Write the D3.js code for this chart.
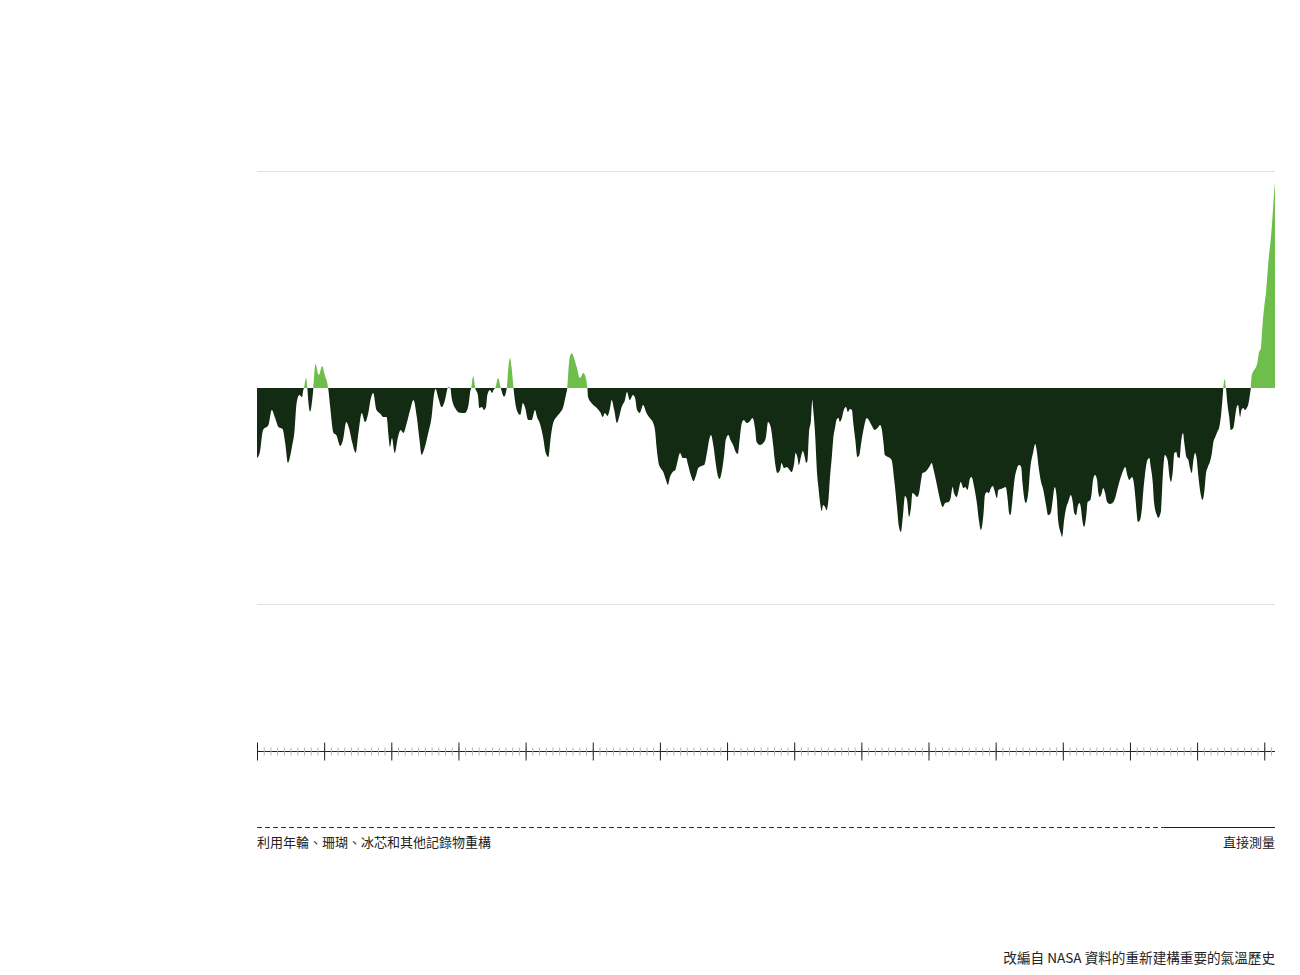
<!DOCTYPE html>
<html>
<head>
<meta charset="utf-8">
<script src="https://cdn.jsdelivr.net/npm/d3@7"></script>
<style>
  html, body { margin: 0; padding: 0; background: #fff; }
  svg { display: block; }
  text { font-family: "Noto Sans CJK TC", "Noto Sans", sans-serif; }
</style>
</head>
<body>
<svg id="chart" width="1300" height="975"></svg>
<script>
// Temperature anomaly (°C), year -> value
const tempAnomaly = [
[500,-0.323],[504,-0.300],[509,-0.194],[517,-0.171],[522,-0.102],[527,-0.139],[532,-0.180],[538,-0.189],
[542,-0.254],[546,-0.346],[552,-0.273],[556,-0.194],[559,-0.069],[563,-0.032],[567,-0.042],[569,-0.009],
[570,0],[573,0.046],[575,0],[576,-0.046],[579,-0.109],[583,-0.032],[584,0],[587,0.111],[592,0.060],
[597,0.102],[601,0.060],[606,0],[609,-0.088],[614,-0.208],[618,-0.217],[624,-0.268],[628,-0.240],
[633,-0.157],[637,-0.185],[642,-0.254],[647,-0.299],[651,-0.208],[656,-0.115],[661,-0.157],[666,-0.111],
[669,-0.055],[673,-0.023],[678,-0.102],[684,-0.120],[688,-0.134],[693,-0.134],[696,-0.226],[698,-0.273],
[701,-0.231],[705,-0.300],[710,-0.226],[714,-0.194],[718,-0.208],[723,-0.162],[728,-0.102],[733,-0.055],
[738,-0.134],[742,-0.240],[745,-0.309],[750,-0.273],[755,-0.208],[760,-0.134],[764,-0.023],[766,-0.005],
[770,-0.046],[775,-0.088],[780,-0.055],[784,0],[786,0.006],[788,0],[790,-0.046],[795,-0.092],[802,-0.114],
[810,-0.115],[815,-0.079],[818,-0.009],[819,0],[822,0.055],[825,0],[829,-0.032],[831,-0.092],[835,-0.088],
[838,-0.102],[841,-0.088],[843,-0.032],[847,-0.009],[850,-0.023],[853,-0.005],[855,0],[859,0.046],[863,0],
[868,-0.040],[872,0],[874,0.083],[877,0.139],[879,0.098],[882,0],[884,-0.055],[888,-0.111],[892,-0.125],
[896,-0.069],[899,-0.088],[904,-0.148],[909,-0.148],[914,-0.102],[917,-0.134],[921,-0.162],[926,-0.226],
[930,-0.300],[934,-0.319],[937,-0.240],[941,-0.162],[946,-0.134],[951,-0.115],[956,-0.088],[960,-0.032],
[962,0],[964,0.092],[966,0.145],[969,0.160],[972,0.139],[976,0.098],[981,0.046],[986,0.069],[990,0.042],
[992,0],[993,-0.042],[998,-0.069],[1006,-0.092],[1011,-0.111],[1015,-0.134],[1018,-0.115],[1022,-0.129],
[1026,-0.088],[1028,-0.055],[1032,-0.102],[1036,-0.162],[1040,-0.125],[1043,-0.088],[1048,-0.055],
[1051,-0.018],[1055,-0.055],[1060,-0.032],[1063,-0.046],[1066,-0.102],[1070,-0.115],[1075,-0.079],
[1080,-0.115],[1085,-0.139],[1090,-0.162],[1093,-0.203],[1095,-0.273],[1098,-0.346],[1101,-0.370],
[1105,-0.388],[1109,-0.425],[1112,-0.448],[1115,-0.411],[1119,-0.388],[1123,-0.379],[1126,-0.342],
[1130,-0.300],[1134,-0.323],[1139,-0.323],[1142,-0.356],[1146,-0.402],[1150,-0.430],[1154,-0.402],
[1157,-0.370],[1162,-0.360],[1166,-0.356],[1170,-0.300],[1174,-0.231],[1176,-0.217],[1180,-0.273],
[1183,-0.346],[1186,-0.402],[1189,-0.420],[1192,-0.388],[1196,-0.300],[1198,-0.240],[1202,-0.217],
[1205,-0.240],[1209,-0.263],[1213,-0.296],[1216,-0.305],[1219,-0.231],[1222,-0.162],[1225,-0.148],
[1229,-0.162],[1233,-0.157],[1238,-0.139],[1242,-0.194],[1244,-0.249],[1249,-0.263],[1254,-0.254],
[1258,-0.226],[1261,-0.157],[1265,-0.180],[1269,-0.273],[1271,-0.333],[1275,-0.393],[1279,-0.379],
[1281,-0.346],[1285,-0.370],[1289,-0.365],[1292,-0.374],[1296,-0.388],[1300,-0.346],[1302,-0.300],
[1305,-0.323],[1307,-0.356],[1310,-0.319],[1313,-0.291],[1315,-0.309],[1318,-0.346],[1320,-0.333],
[1322,-0.208],[1325,-0.148],[1327,-0.055],[1328,-0.088],[1331,-0.208],[1334,-0.393],[1336,-0.457],
[1338,-0.517],[1341,-0.568],[1343,-0.540],[1346,-0.550],[1348,-0.564],[1351,-0.517],[1353,-0.425],
[1356,-0.319],[1358,-0.240],[1361,-0.180],[1363,-0.148],[1366,-0.139],[1368,-0.157],[1371,-0.139],
[1373,-0.111],[1377,-0.088],[1380,-0.111],[1383,-0.097],[1386,-0.102],[1388,-0.162],[1391,-0.240],
[1394,-0.319],[1397,-0.309],[1400,-0.249],[1404,-0.180],[1408,-0.139],[1411,-0.148],[1415,-0.171],
[1420,-0.194],[1424,-0.185],[1428,-0.171],[1430,-0.185],[1433,-0.254],[1435,-0.309],[1440,-0.319],
[1445,-0.333],[1449,-0.425],[1453,-0.550],[1456,-0.642],[1459,-0.665],[1462,-0.587],[1465,-0.499],
[1468,-0.517],[1471,-0.596],[1474,-0.550],[1476,-0.485],[1480,-0.494],[1483,-0.503],[1486,-0.485],
[1489,-0.425],[1491,-0.393],[1495,-0.388],[1498,-0.379],[1501,-0.365],[1505,-0.346],[1507,-0.370],
[1511,-0.425],[1515,-0.485],[1518,-0.527],[1521,-0.550],[1525,-0.531],[1530,-0.527],[1533,-0.508],
[1536,-0.457],[1538,-0.485],[1542,-0.503],[1545,-0.471],[1548,-0.434],[1552,-0.462],[1555,-0.457],
[1558,-0.471],[1562,-0.416],[1564,-0.411],[1568,-0.457],[1572,-0.531],[1575,-0.610],[1578,-0.656],
[1582,-0.577],[1584,-0.494],[1587,-0.480],[1590,-0.485],[1593,-0.462],[1596,-0.453],[1598,-0.471],
[1602,-0.508],[1604,-0.471],[1608,-0.467],[1611,-0.462],[1615,-0.457],[1618,-0.517],[1620,-0.577],
[1622,-0.587],[1625,-0.517],[1628,-0.425],[1631,-0.379],[1635,-0.356],[1638,-0.365],[1640,-0.439],
[1643,-0.517],[1645,-0.531],[1649,-0.471],[1651,-0.388],[1656,-0.296],[1659,-0.259],[1661,-0.286],
[1664,-0.365],[1667,-0.425],[1671,-0.471],[1675,-0.540],[1678,-0.587],[1682,-0.577],[1685,-0.517],
[1688,-0.457],[1691,-0.508],[1693,-0.610],[1697,-0.670],[1699,-0.688],[1702,-0.610],[1705,-0.554],
[1708,-0.527],[1712,-0.494],[1715,-0.531],[1717,-0.577],[1720,-0.587],[1722,-0.550],[1725,-0.531],
[1727,-0.554],[1729,-0.610],[1732,-0.642],[1735,-0.587],[1737,-0.527],[1741,-0.517],[1743,-0.485],
[1745,-0.425],[1748,-0.402],[1751,-0.425],[1753,-0.485],[1755,-0.503],[1758,-0.485],[1760,-0.462],
[1763,-0.485],[1766,-0.527],[1770,-0.536],[1774,-0.531],[1778,-0.508],[1781,-0.471],[1785,-0.425],
[1789,-0.388],[1793,-0.365],[1796,-0.402],[1799,-0.425],[1803,-0.411],[1805,-0.425],[1808,-0.503],
[1810,-0.577],[1812,-0.619],[1815,-0.610],[1818,-0.550],[1820,-0.471],[1822,-0.411],[1826,-0.333],
[1829,-0.323],[1831,-0.365],[1834,-0.439],[1836,-0.531],[1840,-0.587],[1842,-0.600],[1846,-0.573],
[1849,-0.402],[1852,-0.309],[1856,-0.333],[1859,-0.411],[1861,-0.434],[1864,-0.379],[1866,-0.300],
[1869,-0.296],[1871,-0.319],[1874,-0.323],[1876,-0.254],[1879,-0.208],[1881,-0.254],[1884,-0.319],
[1887,-0.333],[1889,-0.365],[1892,-0.393],[1894,-0.346],[1897,-0.300],[1899,-0.319],[1902,-0.411],
[1905,-0.485],[1908,-0.517],[1911,-0.471],[1913,-0.402],[1916,-0.365],[1919,-0.342],[1922,-0.300],
[1924,-0.254],[1927,-0.226],[1930,-0.203],[1933,-0.180],[1936,-0.115],[1938,-0.042],[1939,0],
[1941,0.042],[1943,0],[1945,-0.069],[1948,-0.139],[1950,-0.194],[1954,-0.185],[1956,-0.148],
[1959,-0.088],[1961,-0.079],[1964,-0.134],[1966,-0.102],[1969,-0.092],[1971,-0.102],[1974,-0.092],
[1976,-0.079],[1979,-0.023],[1980,0],[1981,0.051],[1984,0.079],[1987,0.092],[1990,0.120],[1992,0.162],
[1995,0.185],[1996,0.222],[1998,0.314],[2000,0.374],[2003,0.453],[2006,0.577],[2010,0.697],
[2013,0.822],[2015,0.915],[2016,0.952]
];

const yearDomain = [500, 2016];
const gridValues = [-1, 1];
const majorTicks = [500,600,700,800,900,1000,1100,1200,1300,1400,1500,1600,1700,1800,1900,2000];
const minorTicks = d3.range(500, 2016, 10);
const instrumentalStart = 1850;
const labelProxy = "利用年輪、珊瑚、冰芯和其他記錄物重構";
const labelDirect = "直接測量";
const sourceText = "改編自 NASA 資料的重新建構重要的氣溫歷史";

const darkColor = "#132a13";
const warmColor = "#6dbe4b";

const svg = d3.select("#chart");
const x = d3.scaleLinear().domain(yearDomain).range([257, 1275]);
const y = d3.scaleLinear().domain([-1, 1]).range([604.5, 171.5]);

// gridlines
svg.append("g").selectAll("line").data(gridValues).join("line")
  .attr("x1", x(yearDomain[0])).attr("x2", x(yearDomain[1]))
  .attr("y1", d => y(d)).attr("y2", d => y(d))
  .attr("stroke", "#e2e2e2").attr("stroke-width", 1);

// clip paths
const defs = svg.append("defs");
defs.append("clipPath").attr("id", "above").append("rect")
  .attr("x", 0).attr("y", 0).attr("width", 1300).attr("height", y(0));
defs.append("clipPath").attr("id", "below").append("rect")
  .attr("x", 0).attr("y", y(0)).attr("width", 1300).attr("height", 975 - y(0));

const area = d3.area()
  .x(d => x(d[0]))
  .y0(y(0))
  .y1(d => y(d[1]))
  .curve(d3.curveMonotoneX);

svg.append("path").datum(tempAnomaly)
  .attr("d", area).attr("fill", darkColor).attr("clip-path", "url(#below)");
svg.append("path").datum(tempAnomaly)
  .attr("d", area).attr("fill", warmColor).attr("clip-path", "url(#above)");

// time axis
const axisY = 751.5;
svg.append("line")
  .attr("x1", x(yearDomain[0])).attr("x2", x(yearDomain[1]))
  .attr("y1", axisY).attr("y2", axisY)
  .attr("stroke", darkColor).attr("stroke-width", 1);

const minorAxis = svg.append("g")
  .attr("transform", `translate(0,${axisY - 4})`)
  .call(d3.axisBottom(x).tickValues(minorTicks).tickSize(8).tickFormat(""));
minorAxis.select(".domain").remove();
minorAxis.selectAll(".tick line").attr("stroke", "#b5b5b5");

const majorAxis = svg.append("g")
  .attr("transform", `translate(0,${axisY - 9})`)
  .call(d3.axisBottom(x).tickValues(majorTicks).tickSize(18).tickFormat(""));
majorAxis.select(".domain").remove();
majorAxis.selectAll(".tick line").attr("stroke", darkColor);

// data source legend lines
const legY = 827.5;
svg.append("line")
  .attr("x1", x(yearDomain[0])).attr("x2", x(instrumentalStart))
  .attr("y1", legY).attr("y2", legY)
  .attr("stroke", "#333").attr("stroke-width", 1)
  .attr("stroke-dasharray", "5,3");
svg.append("line")
  .attr("x1", x(instrumentalStart)).attr("x2", x(yearDomain[1]))
  .attr("y1", legY).attr("y2", legY)
  .attr("stroke", darkColor).attr("stroke-width", 1);

svg.append("text")
  .attr("x", x(yearDomain[0])).attr("y", 847)
  .attr("font-size", 13).attr("fill", "#222")
  .text(labelProxy);
svg.append("text")
  .attr("x", x(yearDomain[1])).attr("y", 847)
  .attr("text-anchor", "end")
  .attr("font-size", 13).attr("fill", "#222")
  .text(labelDirect);

svg.append("text")
  .attr("x", x(yearDomain[1])).attr("y", 963)
  .attr("text-anchor", "end")
  .attr("font-size", 13.6).attr("fill", "#222")
  .text(sourceText);
</script>
</body>
</html>
